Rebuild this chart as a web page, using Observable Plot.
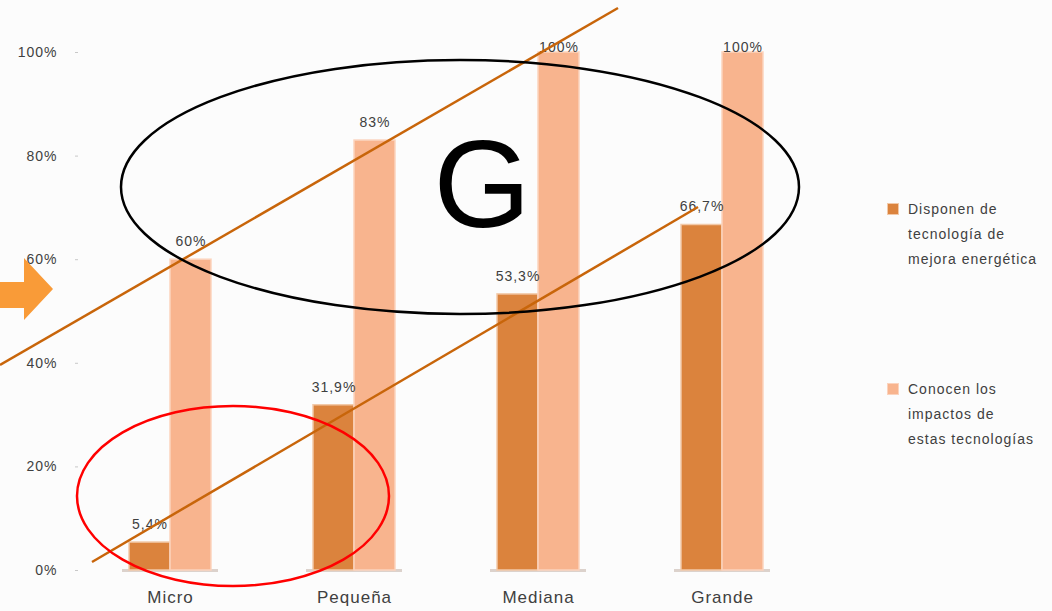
<!DOCTYPE html>
<html>
<head>
<meta charset="utf-8">
<script src="https://cdn.jsdelivr.net/npm/d3@7"></script>
<script src="https://cdn.jsdelivr.net/npm/@observablehq/plot@0.6"></script>
<style>
  html, body { margin: 0; padding: 0; background: #fcfcfc; }
  #wrap { position: relative; width: 1052px; height: 611px; overflow: hidden; font-family: "Liberation Sans", Arial, sans-serif; }
  #chart svg text { letter-spacing: 1px; }
  #legend { position: absolute; left: 887px; top: 0; color: #404040; font-size: 14px; letter-spacing: 1px; }
  .item { position: absolute; left: 0; width: 170px; line-height: 25px; }
  .sw { position: absolute; left: 0; top: 6px; width: 12px; height: 12px; box-sizing: border-box; }
  .lbl { position: absolute; left: 21px; top: 0; white-space: nowrap; }
  #overlay { position: absolute; left: 0; top: 0; pointer-events: none; }
</style>
</head>
<body>
<div id="wrap">
  <div id="chart"></div>
  <div id="legend"></div>
</div>
<script>
// ---- data ----
const categories = ["Micro", "Pequeña", "Mediana", "Grande"];
const seriesNames = ["Disponen de tecnología de mejora energética", "Conocen los impactos de estas tecnologías"];
const seriesLegendLines = [["Disponen de", "tecnología de", "mejora energética"], ["Conocen los", "impactos de", "estas tecnologías"]];
const disponen = [5.4, 31.9, 53.3, 66.7];
const conocen = [60, 83, 100, 100];
const yTicks = [0, 20, 40, 60, 80, 100];

// ---- styles ----
const darkFill = "#db833d", darkStroke = "#f2c9a8";
const lightFill = "#f8b48e", lightStroke = "#fbd3bd";
const textColor = "#404040";

const rowsDark = categories.map((c, i) => ({cat: c, value: disponen[i]}));
const rowsLight = categories.map((c, i) => ({cat: c, value: conocen[i]}));
const fmt = v => String(v).replace(".", ",") + "%";

const half = 41;
const chart = Plot.plot({
  width: 1052,
  height: 611,
  marginLeft: 78,
  marginRight: 238,
  marginTop: 52,
  marginBottom: 41,
  style: {background: "transparent", fontFamily: "Liberation Sans, Arial, sans-serif", overflow: "visible"},
  x: {domain: categories, paddingInner: 0.554, paddingOuter: 0.277, axis: null},
  y: {domain: [0, 100], axis: null},
  marks: [
    Plot.axisY({ticks: yTicks, tickFormat: d => d + "%", tickSize: 3, tickPadding: 18, stroke: "#c8c8c8", fill: textColor, fontSize: 14, label: null}),
    Plot.axisX({tickSize: 0, tickPadding: 20, fill: textColor, fontSize: 17, label: null}),
    Plot.tickY(categories, {x: d => d, y: () => 0, stroke: "#dcd2cc", strokeWidth: 3, insetLeft: -7, insetRight: -7}),
    Plot.barY(rowsDark, {x: "cat", y: "value", fill: darkFill, stroke: darkStroke, strokeWidth: 1.5, insetRight: half}),
    Plot.barY(rowsLight, {x: "cat", y: "value", fill: lightFill, stroke: lightStroke, strokeWidth: 1.5, insetLeft: half}),
    Plot.text(rowsDark.filter(d => d.value < 100), {x: "cat", y: "value", text: d => fmt(d.value), dx: -half / 2, dy: -18, fill: textColor, fontSize: 14}),
    Plot.text(rowsLight.filter(d => d.value < 100), {x: "cat", y: "value", text: d => fmt(d.value), dx: half / 2, dy: -18, fill: textColor, fontSize: 14}),
    Plot.text(rowsLight.filter(d => d.value >= 100), {x: "cat", y: "value", text: d => fmt(d.value), dx: half / 2, dy: -5, fill: textColor, fontSize: 14})
  ]
});
document.getElementById("chart").appendChild(chart);

// ---- legend ----
const legend = document.getElementById("legend");
const legendTops = [197, 377];
seriesNames.forEach((name, i) => {
  const item = document.createElement("div");
  item.className = "item";
  item.style.top = legendTops[i] + "px";
  item.title = name;
  const sw = document.createElement("div");
  sw.className = "sw";
  sw.style.background = i === 0 ? darkFill : lightFill;
  sw.style.border = "1px solid " + (i === 0 ? darkStroke : lightStroke);
  const lbl = document.createElement("div");
  lbl.className = "lbl";
  lbl.innerHTML = seriesLegendLines[i].join("<br>");
  item.appendChild(sw);
  item.appendChild(lbl);
  legend.appendChild(item);
});

// ---- hand-drawn annotations overlay ----
const ns = "http://www.w3.org/2000/svg";
const ov = document.createElementNS(ns, "svg");
ov.setAttribute("id", "overlay");
ov.setAttribute("width", 1052);
ov.setAttribute("height", 611);
ov.innerHTML = `
  <polygon points="0,282 24,282 24,258 53,289 24,320 24,308 0,308" fill="#f99b38"/>
  <line x1="0" y1="365" x2="618" y2="8" stroke="#c8650a" stroke-width="2.5"/>
  <line x1="92" y1="562" x2="698" y2="207" stroke="#c8650a" stroke-width="2.5"/>
  <ellipse cx="460" cy="187" rx="339" ry="127" fill="none" stroke="#000" stroke-width="2.5"/>
  <ellipse cx="233" cy="496" rx="156" ry="90" fill="none" stroke="#ff0000" stroke-width="2.5"/>
  <text x="482" y="227" text-anchor="middle" font-family="Liberation Sans, Arial, sans-serif" font-size="125" fill="#000">G</text>
`;
document.getElementById("wrap").appendChild(ov);
</script>
</body>
</html>
